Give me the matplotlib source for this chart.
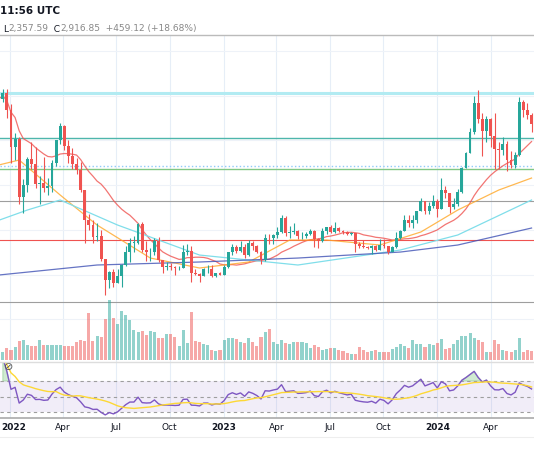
import numpy as np, pandas as pd
import matplotlib
matplotlib.use("Agg")
import matplotlib.pyplot as plt

start = "2021-12-13"
closes = [3950,4050,3770,3200,3330,2410,2600,3010,2930,2620,2630,2560,2580,2950,3300,3520,3220,3050,2930,2830,
 2520,2060,1970,1790,1800,1450,1120,1240,1070,1170,1350,1550,1700,1700,1990,1580,1550,1560,1720,1430,
 1320,1330,1320,1300,1310,1560,1570,1220,1210,1170,1280,1280,1180,1220,1200,1320,1550,1630,1570,1630,
 1510,1690,1640,1560,1430,1780,1770,1820,1860,2090,1850,1870,1890,1800,1810,1830,1890,1750,1720,1890,
 1950,1870,1930,1890,1860,1830,1850,1680,1650,1630,1620,1640,1590,1670,1640,1550,1630,1780,1890,2050,
 2010,2060,2190,2350,2200,2270,2350,2220,2530,2470,2260,2300,2500,2870,3100,3440,3880,3640,3450,3640,
 3370,3160,3150,3250,2990,2910,3080,3900,3780,3700,3560]
highs = [4200,4100,4100,3870,3420,3350,2700,3040,3280,3200,2750,3040,2720,3000,3310,3580,3550,3300,3180,3030,
 2960,2520,2150,2050,2000,1900,1450,1260,1280,1280,1360,1650,1780,1800,2000,2030,1720,1620,1780,1790,
 1430,1400,1380,1340,1340,1670,1680,1650,1290,1230,1300,1350,1350,1230,1240,1350,1560,1680,1660,1720,
 1680,1740,1720,1660,1570,1840,1840,1840,1940,2140,2120,1960,2010,1900,1860,1860,1920,1900,1770,1930,
 1950,1970,2030,1950,1900,1880,1860,1850,1710,1740,1650,1660,1670,1750,1750,1640,1640,1860,1900,2140,
 2130,2130,2200,2400,2350,2340,2440,2390,2720,2590,2480,2400,2540,2890,3120,3500,4000,4090,3730,3680,
 3650,3730,3270,3350,3290,3130,3120,3975,3940,3890,3730]
lows = [3650,3900,3650,2950,3000,2300,2160,2500,2850,2550,2300,2500,2450,2500,2900,3250,3150,2950,2850,2780,
 2500,1700,1900,1700,1720,1420,880,990,1000,1070,1010,1340,1400,1550,1680,1560,1420,1420,1500,1400,
 1220,1270,1270,1190,1270,1300,1510,1080,1190,1080,1170,1230,1160,1160,1190,1190,1310,1500,1540,1550,
 1460,1490,1580,1540,1370,1420,1680,1680,1780,1850,1800,1780,1830,1750,1760,1780,1820,1630,1620,1710,
 1830,1850,1850,1860,1840,1820,1820,1550,1610,1620,1600,1530,1570,1580,1620,1530,1550,1620,1760,1880,
 1940,1930,2010,2190,2150,2150,2240,2100,2220,2400,2170,2220,2280,2470,2870,3100,3400,3570,3050,3280,
 3200,2860,2860,3070,2820,2870,2870,3050,3670,3640,3440]
first_open = 4100
volumes = [10,8,12,10,13,19,20,15,14,14, 20,15,15,15,15,15,14,14,14,18,
 20,19,47,19,24,23,41,60,42,36, 49,45,40,30,28,29,25,29,28,22,
 22,26,26,23,14,30,17,48,19,18, 16,15,10,9,10,20,22,22,21,18,
 17,22,18,14,23,28,31,18,16,20, 17,16,18,18,18,17,12,15,13,10,
 11,12,12,10,9,7,6,6,13,10, 8,9,10,8,8,8,11,13,16,14,
 12,20,16,16,13,16,15,17,21,11, 12,16,20,24,24,27,22,20,18,8,
 8,20,16,10,9,8,10,22,8,10,9]
# moving averages (week index, price)
ma50_pts = ([0,5,15,24,37,49,61,71,80,93,103,112,122,130],[2916,2994,2446,1976,1459,1303,1397,1741,1741,1663,1867,2211,2524,2712])
ma100_pts = ([0,7,15,29,49,73,98,112,130],[2050,2211,2368,1976,1506,1350,1585,1820,2368])
ma200_pts = ([0,24,49,73,98,112,130],[1193,1350,1397,1459,1553,1663,1929])
levels = [(4043,'#b2ebf2',2.2,'-'),(3339,'#4db6ac',1,'-'),(2900,'#90caf9',1,':'),(2853,'#81c784',1,'-'),
          (2352,'#9e9e9e',0.8,'-'),(1741,'#ef5350',0.8,'-'),(770,'#9e9e9e',0.8,'-')]
tick_dates = ["2022-01-01","2022-04-01","2022-07-01","2022-10-01","2023-01-01","2023-04-01","2023-07-01",
              "2023-10-01","2024-01-01","2024-04-01"]
tick_labels = ["2022","Apr","Jul","Oct","2023","Apr","Jul","Oct","2024","Apr"]

n = len(closes)
opens = [first_open] + closes[:-1]
idx = np.arange(n)
c = pd.Series(closes, dtype=float)
ma20 = c.rolling(20, min_periods=1).mean()
d = c.diff()
up = d.clip(lower=0).ewm(alpha=1/14, adjust=False, min_periods=1).mean()
dn = (-d.clip(upper=0)).ewm(alpha=1/14, adjust=False, min_periods=1).mean()
rsi = 100 - 100/(1+up/dn)
rsi_ma = rsi.rolling(14, min_periods=1).mean()
t0 = pd.Timestamp(start)
tick_x = [(pd.Timestamp(t)-t0).days/7 for t in tick_dates]

W, H = 534, 462
fig = plt.figure(figsize=(W/100, H/100), dpi=100)
def ax_px(top, bottom):
    return fig.add_axes([0, 1-bottom/H, 1, (bottom-top)/H])
xl = (0.32, 130.6)
UP, DN = '#26a69a', '#ef5350'

ax = ax_px(35, 362)
axv = ax_px(35, 362); axv.patch.set_visible(False)
axr = ax_px(362, 418)
for a in (ax, axv, axr):
    a.set_xlim(*xl); a.set_xticks([]); a.set_yticks([])
    for s in a.spines.values(): s.set_visible(False)
ax.set_ylim(-169, 4952)
axv.set_ylim(-2, 325)
axr.set_ylim(22.3, 94.5)
for tx in tick_x:
    for a in (ax, axr):
        a.axvline(tx, color='#e6eef7', lw=0.8, zorder=0)
for p in [4700, 4000, 3300, 2600, 1900, 1200, 500]:
    ax.axhline(p, color='#eef2f8', lw=0.8, zorder=0)
for p, col, lw, ls in levels:
    ax.axhline(p, color=col, lw=lw, ls=ls, zorder=1)
vcol = [UP if cl >= o else DN for o, cl in zip(opens, closes)]
axv.bar(idx, volumes, width=0.75, color=vcol, alpha=0.5, zorder=1)
for i in idx:
    col = vcol[i]
    ax.vlines(i, lows[i], highs[i], color=col, lw=0.8, zorder=3)
    ax.bar(i, abs(closes[i]-opens[i]) or 8, bottom=min(closes[i], opens[i]), width=0.7, color=col, zorder=3)
ax.plot(idx, ma20, color='#ef5350', lw=0.9, alpha=0.8, zorder=2)
ax.plot(*ma50_pts, color='#ffa726', lw=0.9, alpha=0.8, zorder=2)
ax.plot(*ma100_pts, color='#80deea', lw=0.9, zorder=2)
ax.plot(*ma200_pts, color='#3f51b5', lw=0.9, alpha=0.8, zorder=2)

axr.axhspan(30, 70, color='#7e57c2', alpha=0.1, lw=0)
for lv in (70, 50, 30):
    axr.axhline(lv, color='#9e9e9e', lw=0.8, ls=(0, (3, 3)))
axr.plot(idx, rsi, color='#7e57c2', lw=1)
axr.plot(idx, rsi_ma, color='#fdd835', lw=1)
axr.fill_between(idx, 70, rsi, where=rsi > 70, color='#66bb6a', alpha=0.3, interpolate=True)
axr.text(0.008, 0.85, '⊘', transform=axr.transAxes, fontsize=8, color='#555')

fig.add_artist(plt.Line2D([0, 1], [1-35/H]*2, color='#bbbbbb', lw=1))
fig.add_artist(plt.Line2D([0, 1], [1-362/H]*2, color='#dddddd', lw=1))
fig.add_artist(plt.Line2D([0, 1], [1-418/H]*2, color='#aaaaaa', lw=1.2))
fig.add_artist(plt.Line2D([0, 1], [1-437/H]*2, color='#eeeeee', lw=0.8))
fig.text(0, 1-11/H, '11:56 UTC', fontsize=7.5, color='#131722', va='center', fontweight='bold')
x = 3/W
for s, col in [('L', '#131722'), ('2,357.59', '#888'), ('  C', '#131722'), ('2,916.85', '#888'), ('  +459.12 (+18.68%)', '#888')]:
    t = fig.text(x, 1-29/H, s, fontsize=6.5, color=col, va='center')
    fig.canvas.draw()
    x += t.get_window_extent().width/W
for tx, lb in zip(tick_x, tick_labels):
    fx = max((tx-xl[0])/(xl[1]-xl[0]), 14/W)
    fig.text(fx, 1-428/H, lb, fontsize=6.5, color='#131722', ha='center', va='center',
             fontweight='bold' if lb[0] == '2' else 'normal')
fig.savefig('out.png', dpi=100)
